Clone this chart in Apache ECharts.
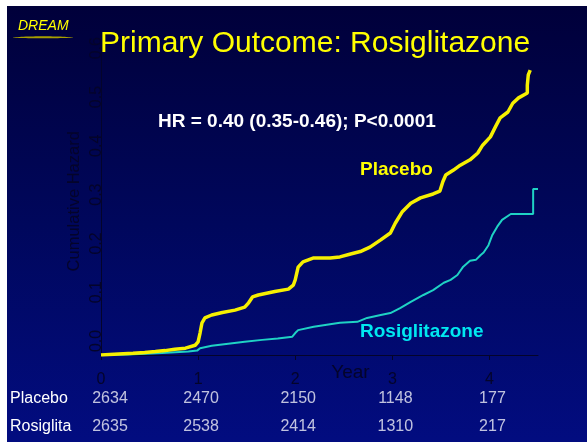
<!DOCTYPE html>
<html>
<head>
<meta charset="utf-8">
<script src="https://cdn.jsdelivr.net/npm/echarts@6/dist/echarts.min.js"></script>
<style>
    html, body { margin: 0; padding: 0; background: #fff; }
    #chart { width: 587px; height: 442px; }
</style>
</head>
<body>
<div id="chart"></div>
<script>
// cumulative hazard, [year, hazard]
const placebo = [
    [0, 0], [0.18, 0.002], [0.33, 0.0035], [0.45, 0.005], [0.56, 0.007], [0.66, 0.009],
    [0.76, 0.012], [0.87, 0.014], [0.97, 0.020], [1.0, 0.027], [1.02, 0.045], [1.04, 0.066],
    [1.07, 0.076], [1.14, 0.082], [1.25, 0.087], [1.38, 0.092], [1.48, 0.098], [1.52, 0.107],
    [1.56, 0.119], [1.62, 0.123], [1.79, 0.130], [1.93, 0.135], [1.98, 0.143], [2.0, 0.154],
    [2.03, 0.180], [2.08, 0.191], [2.19, 0.199], [2.36, 0.199], [2.46, 0.201], [2.57, 0.207],
    [2.67, 0.212], [2.77, 0.221], [2.88, 0.236], [2.98, 0.250], [3.03, 0.270], [3.10, 0.293],
    [3.19, 0.311], [3.29, 0.322], [3.42, 0.330], [3.49, 0.336], [3.52, 0.355], [3.55, 0.369],
    [3.63, 0.379], [3.70, 0.389], [3.80, 0.400], [3.88, 0.414], [3.93, 0.430], [4.01, 0.447],
    [4.06, 0.467], [4.11, 0.486], [4.19, 0.498], [4.24, 0.516], [4.30, 0.527], [4.39, 0.537],
    [4.39, 0.553], [4.40, 0.574], [4.42, 0.584]
]
const rosiglitazone = [
    [0, 0], [0.28, 0.001], [0.63, 0.004], [0.90, 0.007], [0.99, 0.009], [1.02, 0.014], [1.04, 0.017],
    [1.14, 0.019], [1.31, 0.023], [1.48, 0.027], [1.66, 0.031], [1.82, 0.034], [1.97, 0.0375],
    [2.0, 0.045], [2.03, 0.051], [2.19, 0.058], [2.46, 0.066], [2.64, 0.068], [2.74, 0.076], [2.88, 0.082],
    [2.98, 0.086], [3.08, 0.096], [3.19, 0.109], [3.32, 0.123], [3.42, 0.133], [3.53, 0.148],
    [3.60, 0.154], [3.67, 0.164], [3.73, 0.181], [3.80, 0.193], [3.86, 0.195], [3.91, 0.205],
    [3.94, 0.210], [3.99, 0.225], [4.03, 0.246], [4.08, 0.263], [4.13, 0.277], [4.22, 0.289],
    [4.45, 0.289], [4.45, 0.340], [4.50, 0.340]
]
// numbers at risk
const riskYears = [0, 1, 2, 3, 4]
const riskGroups = ['Placebo', 'Rosiglita']
const riskPlacebo = [2634, 2470, 2150, 1148, 177]
const riskRosi = [2635, 2538, 2414, 1310, 217]

const font = 'Liberation Sans, Arial, sans-serif'
const axisInk = '#04042a'

const riskData = []
;[riskPlacebo, riskRosi].forEach((row, r) => {
    row.forEach((n, i) => {
        riskData.push({
            value: [riskYears[i], riskGroups[r], n],
            label: { offset: [i === 0 ? 9 : 3, 0] },
        })
    })
})

const chart = echarts.init(document.getElementById('chart'), null, { renderer: 'canvas' })
chart.setOption({
    backgroundColor: '#ffffff',
    animation: false,
    title: {
        text: 'Primary Outcome: Rosiglitazone',
        left: 100,
        top: 29,
        padding: 0,
        textStyle: { color: '#ffff00', fontFamily: font, fontSize: 30, fontWeight: 'normal' },
    },
    graphic: [
        {
            type: 'rect', z: -10, silent: true,
            shape: { x: 7, y: 6, width: 580, height: 436 },
            style: {
                fill: new echarts.graphic.LinearGradient(0, 0, 0, 1, [
                    { offset: 0, color: '#00003a' },
                    { offset: 0.5, color: '#00075c' },
                    { offset: 1, color: '#020c80' },
                ]),
            },
        },
        {
            type: 'text', left: 18, top: 19,
            style: { text: 'DREAM', fill: '#ffff00', font: 'italic 14px ' + font },
        },
        {
            type: 'polygon', silent: true,
            shape: { points: [[13, 37.4], [43, 36.2], [73, 37.4], [43, 38.2]], smooth: 0.4 },
            style: { fill: '#a8a000' },
        },
        {
            type: 'text', x: 158, y: 122,
            style: {
                text: 'HR = 0.40 (0.35-0.46); P<0.0001', fill: '#ffffff',
                font: 'bold 19px ' + font, textVerticalAlign: 'middle',
            },
        },
        {
            type: 'text', x: 360, y: 170,
            style: { text: 'Placebo', fill: '#ffff00', font: 'bold 19px ' + font, textVerticalAlign: 'middle' },
        },
        {
            type: 'text', x: 360, y: 332,
            style: { text: 'Rosiglitazone', fill: '#00e8f0', font: 'bold 19px ' + font, textVerticalAlign: 'middle' },
        },
    ],
    grid: [
        { left: 101, right: 49, top: 47.6, bottom: 87, containLabel: false },
        { left: 101, right: 49, top: 385, height: 56, containLabel: false },
    ],
    xAxis: [
        {
            gridIndex: 0,
            type: 'value',
            min: 0,
            max: 4.5,
            interval: 1,
            name: 'Year',
            nameLocation: 'middle',
            nameGap: 8,
            nameMoveOverlap: false,
            nameTextStyle: { color: axisInk, fontFamily: font, fontSize: 19, padding: [0, 0, 0, 62] },
            axisLine: { show: true, lineStyle: { color: axisInk, width: 1 } },
            axisTick: { show: true, length: 5, lineStyle: { color: axisInk } },
            axisLabel: { color: axisInk, fontFamily: font, fontSize: 16, margin: 17, showMaxLabel: false },
            splitLine: { show: false },
        },
        {
            gridIndex: 1,
            type: 'value',
            min: 0,
            max: 4.5,
            show: false,
        },
    ],
    yAxis: [
        {
            gridIndex: 0,
            type: 'value',
            min: 0,
            max: 0.63,
            interval: 0.1,
            name: 'Cumulative Hazard',
            nameLocation: 'middle',
            nameGap: 18,
            nameMoveOverlap: false,
            nameTextStyle: { color: axisInk, fontFamily: font, fontSize: 16.5 },
            axisLine: { show: true, lineStyle: { color: axisInk, width: 1 } },
            axisTick: { show: false },
            axisLabel: {
                color: axisInk, fontFamily: font, fontSize: 16, rotate: 90, margin: -4,
                showMaxLabel: false, padding: [0, 0, 0, 28],
                formatter: v => v.toFixed(1),
            },
            splitLine: { show: false },
        },
        {
            gridIndex: 1,
            type: 'category',
            inverse: true,
            data: riskGroups,
            axisLine: { show: false },
            axisTick: { show: false },
            axisLabel: { color: '#ffffff', fontFamily: font, fontSize: 16, align: 'left', margin: 91 },
        },
    ],
    series: [
        {
            name: 'Rosiglitazone',
            type: 'line',
            xAxisIndex: 0,
            yAxisIndex: 0,
            showSymbol: false,
            data: rosiglitazone,
            lineStyle: { color: '#1fd2c4', width: 2 },
        },
        {
            name: 'Placebo',
            type: 'line',
            xAxisIndex: 0,
            yAxisIndex: 0,
            showSymbol: false,
            data: placebo,
            lineStyle: { color: '#f6f000', width: 3.5 },
        },
        {
            name: 'At risk',
            type: 'scatter',
            xAxisIndex: 1,
            yAxisIndex: 1,
            symbolSize: 0,
            data: riskData,
            label: {
                show: true,
                position: 'inside',
                color: '#f0f0f8',
                fontFamily: font,
                fontSize: 16,
                formatter: p => p.value[2],
            },
        },
    ],
})
</script>
</body>
</html>
